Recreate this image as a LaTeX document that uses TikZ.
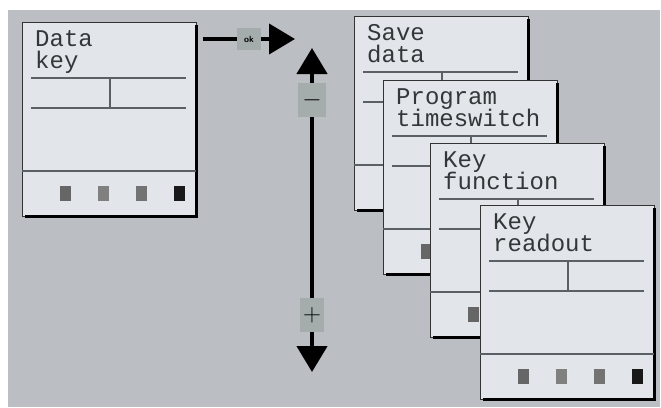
\documentclass[tikz,border=0pt]{standalone}
\usepackage{fontspec}
\newfontfamily\lcdfont{Liberation Mono}
\usetikzlibrary{arrows.meta}
\definecolor{bggray}{RGB}{187,190,194}
\definecolor{lcd}{RGB}{226,230,234}
\definecolor{lcdline}{RGB}{90,96,102}
\definecolor{lcdtext}{RGB}{50,56,58}
\definecolor{keygray}{RGB}{165,172,172}
\tikzset{
  screen/.style={draw=black!80, line width=0.9pt, fill=lcd, minimum width=174pt,
    minimum height=194pt, anchor=north west, inner sep=0pt},
  lcdlabel/.style={anchor=base west, inner sep=0pt, text=lcdtext,
    font=\lcdfont\fontsize{24}{24}\selectfont},
  softkey/.style={minimum width=11pt, minimum height=15pt, inner sep=0pt},
  sidekey/.style={fill=keygray, minimum width=28pt, minimum height=34pt, inner sep=0pt,
    text=black, font=\Huge\bfseries},
  bigarrow/.style={line width=4.5pt, -{Triangle[length=26pt,width=30pt]}}
}
\begin{document}
\begin{tikzpicture}[x=1pt,y=-1pt]
\useasboundingbox (0,0) rectangle (661,407);
\fill[white] (0,0) rectangle (661,407);
\fill[bggray] (8,10) rectangle (660,407);
% the five screens, back to front
\foreach \sx/\sy/\n/\la/\lb in {22/22/1/Data/key, 354/16/2/Save/data,
    383/80/3/Program/timeswitch, 430/143/4/Key/function, 480/205/5/Key/readout} {
  \node[screen] (scr\n) at (\sx,\sy) {};
  \draw[line width=3pt] ([yshift=-3pt]scr\n.north east) -- (scr\n.south east)
    -- ([xshift=3pt]scr\n.south west);
  \node[lcdlabel] (txa\n) at (\sx+13,\sy+24) {\la};
  \node[lcdlabel] (txb\n) at (\sx+13,\sy+46) {\lb};
  \draw[lcdline, line width=1.2pt] (\sx+9,\sy+56) -- (\sx+164,\sy+56);
  \draw[lcdline, line width=1.2pt] (\sx+9,\sy+86) -- (\sx+164,\sy+86);
  \draw[lcdline, line width=1.2pt] (\sx+88,\sy+56) -- (\sx+88,\sy+86);
  \draw[lcdline, line width=1.2pt] (\sx,\sy+149) -- (\sx+174,\sy+149);
  \foreach \bx/\bc [count=\i] in {43/black!60, 81/black!50, 119/black!55, 157/black!90}
    \node[softkey, fill=\bc] (key\n\i) at (\sx+\bx,\sy+171) {};
}
% OK arrow
\coordinate (okend) at (295,39);
\draw[bigarrow, line width=4pt] ([xshift=6pt]scr1.east |- okend) -- (okend);
\node[sidekey, minimum width=24pt, minimum height=22pt, font=\sffamily\bfseries\small]
  (ok) at (249,39) {ok};
% up/down arrow
\coordinate (uptip) at (312,48);
\coordinate (downtip) at (312,372);
\draw[bigarrow, {Triangle[length=26pt,width=30pt]}-{Triangle[length=26pt,width=30pt]}]
  (uptip) -- (downtip);
\node[sidekey] (minus) at (312,100) {$-$};
\node[sidekey, minimum width=24pt] (plus) at (312,315) {$+$};
\end{tikzpicture}
\end{document}
